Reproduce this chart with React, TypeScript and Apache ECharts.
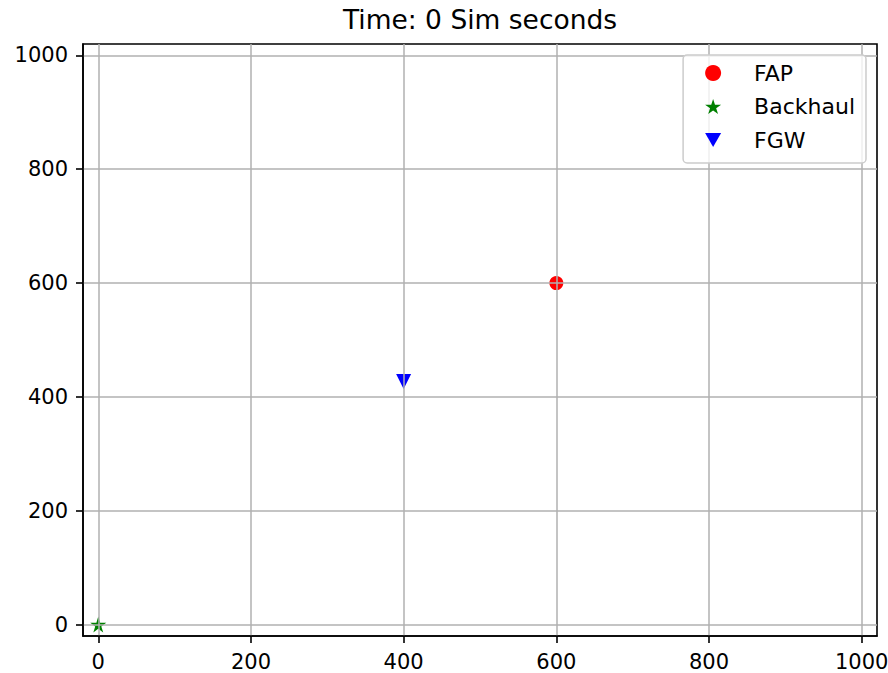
import React, { useEffect, useRef } from "react";
import * as echarts from "echarts";

const TITLE = "Time: 0 Sim seconds";
const TICKS = [0, 200, 400, 600, 800, 1000];
const AXIS_MIN = -20;
const AXIS_MAX = 1020;
const SERIES_NAMES = ["FAP", "Backhaul", "FGW"];
const FAP_POINTS = [[600, 600]];
const BACKHAUL_POINTS = [[0, 0]];
const FGW_POINTS = [[400, 427]];

const STAR =
  "path://M50,0L61.23,34.55L97.55,34.55L68.17,55.9L79.39,90.45L50,69.1L20.61,90.45L31.83,55.9L2.45,34.55L38.77,34.55Z";
const TRI_DOWN = "path://M0,0L100,0L50,86.6Z";

const FONT = "DejaVu Sans";

export default function App() {
  const ref = useRef<HTMLDivElement>(null);
  useEffect(() => {
    if (!ref.current) return;
    const chart = echarts.init(ref.current, null, { renderer: "svg" });
    const axisCommon = (pos: string) => ({
      type: "value",
      min: AXIS_MIN,
      max: AXIS_MAX,
      position: pos,
      z: 3,
      axisLine: { show: true, onZero: false, lineStyle: { color: "#000", width: 1.6 } },
      axisTick: {
        show: true,
        customValues: TICKS,
        length: 7,
        lineStyle: { color: "#000", width: 1.6 },
      },
      axisLabel: {
        customValues: TICKS,
        margin: 15,
        color: "#000",
        fontSize: 21,
        fontFamily: FONT,
        formatter: (v: number) => String(v),
      },
      splitLine: { show: true, lineStyle: { color: "#b0b0b0", width: 1.5 } },
    });
    chart.setOption({
      animation: false,
      backgroundColor: "#fff",
      title: {
        text: TITLE,
        left: 480,
        top: 6,
        padding: 0,
        textAlign: "center",
        textStyle: { fontSize: 26.5, fontWeight: "normal", color: "#000", fontFamily: FONT },
      },
      grid: {
        left: 83,
        right: 11,
        top: 44,
        bottom: 37,
        outerBoundsMode: "none",
        containLabel: false,
        show: true,
        borderColor: "#000",
        borderWidth: 1.6,
        backgroundColor: "transparent",
      },
      legend: {
        orient: "vertical",
        right: 22,
        top: 55,
        data: SERIES_NAMES,
        itemWidth: 16,
        itemHeight: 16,
        itemGap: 11.5,
        padding: [7, 11, 12, 22],
        backgroundColor: "rgba(255,255,255,0.8)",
        borderColor: "#cccccc",
        borderWidth: 1.5,
        borderRadius: 4,
        z: 10,
        formatter: (name: string) => "{gap|}{n|" + name + "}",
        textStyle: {
          fontSize: 22,
          lineHeight: 22,
          color: "#000",
          fontFamily: FONT,
          rich: {
            gap: { width: 28, fontSize: 22, lineHeight: 22 },
            n: { fontSize: 22, lineHeight: 22, color: "#000", fontFamily: FONT },
          },
        },
      },
      xAxis: axisCommon("bottom"),
      yAxis: axisCommon("left"),
      series: [
        {
          name: SERIES_NAMES[0],
          type: "scatter",
          data: FAP_POINTS,
          symbol: "circle",
          symbolSize: 14,
          itemStyle: { color: "#ff0000", opacity: 1 },
          z: 2,
        },
        {
          name: SERIES_NAMES[1],
          type: "scatter",
          data: BACKHAUL_POINTS,
          symbol: STAR,
          symbolSize: 16,
          itemStyle: { color: "#008000", opacity: 1 },
          z: 2,
        },
        {
          name: SERIES_NAMES[2],
          type: "scatter",
          data: FGW_POINTS,
          symbol: TRI_DOWN,
          symbolSize: 15,
          itemStyle: { color: "#0000ff", opacity: 1 },
          z: 2,
        },
      ],
    });
    return () => chart.dispose();
  }, []);
  return <div ref={ref} style={{ width: 888, height: 673, position: "absolute", left: 0, top: 0 }} />;
}
